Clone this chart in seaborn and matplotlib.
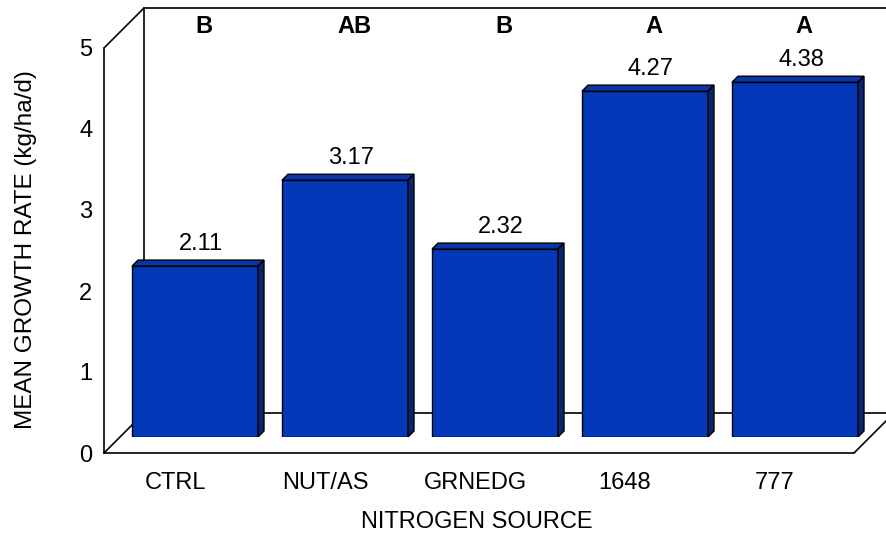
import matplotlib
matplotlib.use("Agg")
import matplotlib.pyplot as plt
import matplotlib.transforms as mtransforms
from matplotlib.patches import Polygon
import seaborn as sns

sources = ["CTRL", "NUT/AS", "GRNEDG", "1648", "777"]
growth = [2.11, 3.17, 2.32, 4.27, 4.38]
letters = ["B", "AB", "B", "A", "A"]
yticks = [0, 1, 2, 3, 4, 5]

sns.set_style("white", {"text.color": "black", "axes.labelcolor": "black",
                        "xtick.color": "black", "ytick.color": "black"})
plt.rcParams["font.family"] = ["Liberation Sans", "DejaVu Sans"]
FS = 17

fig = plt.figure(figsize=(8.87, 5.39), dpi=100)
W, H = 887, 539
# axes = plane in which the bars stand (pixels measured on the reference)
ax = fig.add_axes([120 / W, (H - 437) / H, 750 / W, 430 / H])

sns.barplot(x=sources, y=growth, color="#0339B8", saturation=1, width=0.84,
            edgecolor="black", linewidth=1, ax=ax, zorder=3)
ax.set_xlim(-0.5, 4.5)
ax.set_ylim(0, 430 / 81)

# pseudo 3d box: full depth is 40px in x and y
DX, DY = 40 / 150, 40 / 81
fx, fy = -0.4 * DX, -0.4 * DY     # front plane
bx, by = 0.6 * DX, 0.6 * DY       # back plane
kw = dict(color="black", lw=1.2, clip_on=False, zorder=1)
ax.plot([-0.5 + fx, 4.5 + fx], [fy, fy], **kw)
ax.plot([-0.5 + bx, 4.5 + bx], [by, by], **kw)
ax.plot([-0.5 + fx, -0.5 + fx], [fy, 5 + fy], **kw)
ax.plot([-0.5 + bx, -0.5 + bx], [by, 5 + by], **kw)
ax.plot([-0.5 + bx, 4.5 + bx], [5 + by, 5 + by], **kw)
ax.plot([-0.5 + fx, -0.5 + bx], [5 + fy, 5 + by], **kw)
ax.plot([-0.5 + fx, -0.5 + bx], [fy, by], **kw)
ax.plot([4.5 + fx, 4.5 + bx], [fy, by], **kw)

# top and side faces of the bars
dx, dy = 6 / 150, 6 / 81
for p in ax.patches[:len(growth)]:
    x0 = p.get_x()
    x1 = x0 + p.get_width()
    h = p.get_height()
    ax.add_patch(Polygon([(x0, h), (x1, h), (x1 + dx, h + dy), (x0 + dx, h + dy)],
                         closed=True, fc="#0A35A8", ec="black", lw=1, zorder=3))
    ax.add_patch(Polygon([(x1, 0), (x1 + dx, dy), (x1 + dx, h + dy), (x1, h)],
                         closed=True, fc="#0A2570", ec="black", lw=1, zorder=3))

for i, (v, lab) in enumerate(zip(growth, letters)):
    ax.text(i + 0.04, v + 0.2, f"{v:.2f}", ha="center", va="baseline", fontsize=FS)
    ax.text(i + 0.06, 4.99, lab, ha="center", va="baseline", fontsize=FS,
            fontweight="bold")

sns.despine(ax=ax, left=True, bottom=True)
ax.set_yticks(yticks)
ax.set_yticklabels([str(t) for t in yticks])
ax.tick_params(axis="both", length=0, labelsize=FS)
ax.tick_params(axis="y", pad=20)
ax.tick_params(axis="x", pad=25)
ydown = mtransforms.ScaledTranslation(0, -16 / 100, fig.dpi_scale_trans)
xleft = mtransforms.ScaledTranslation(-20 / 100, 0, fig.dpi_scale_trans)
for t in ax.get_yticklabels():
    t.set_transform(t.get_transform() + ydown)
for t in ax.get_xticklabels():
    t.set_transform(t.get_transform() + xleft)

ax.set_xlabel("NITROGEN SOURCE", fontsize=FS)
ax.set_ylabel("MEAN GROWTH RATE (kg/ha/d)", fontsize=17.5)
ax.xaxis.set_label_coords((477 - 120) / 750, -(511 - 437) / 430)
ax.yaxis.set_label_coords((37 - 120) / 750, (437 - 250) / 430)

fig.savefig("out.png", dpi=100)
